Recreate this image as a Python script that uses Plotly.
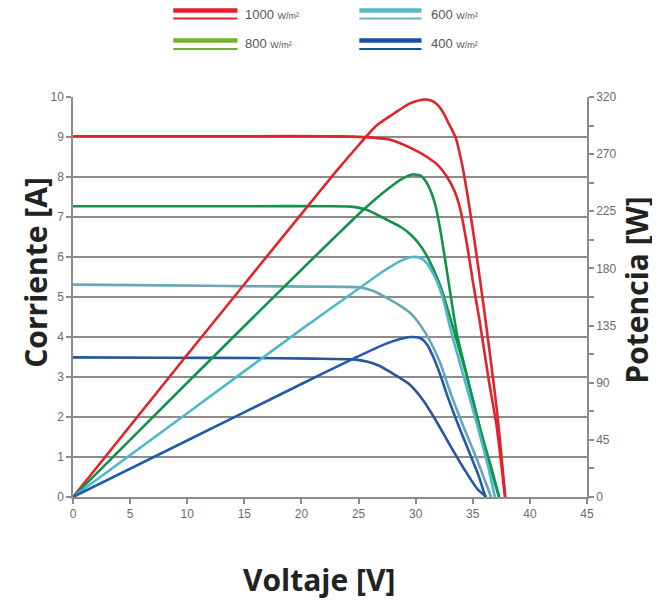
import plotly.graph_objects as go

# ---- data ----
irradiance_labels = ["1000", "800", "600", "400"]

# Current curves [A]
v_i_1000 = [0, 8, 16, 22, 24.5, 26, 27.8, 29.6, 31.0, 32.0, 32.75, 33.4, 33.9, 34.5, 35.0, 35.6, 36.4, 37.1, 37.82]
i_1000 = [9.02, 9.02, 9.02, 9.02, 9.01, 8.99, 8.93, 8.72, 8.5, 8.28, 8.0, 7.65, 7.2, 6.3, 5.4, 4.4, 2.92, 1.75, 0]

v_i_800 = [0, 8, 16, 22, 24.3, 25.7, 27.2, 28.7, 29.6, 30.5, 31.45, 32.25, 32.9, 33.6, 34.45, 35.6, 36.8, 37.3]
i_800 = [7.27, 7.27, 7.27, 7.27, 7.26, 7.18, 6.97, 6.75, 6.55, 6.25, 5.76, 5.2, 4.6, 3.9, 3.05, 1.75, 0.55, 0]

v_i_600 = [0, 8, 15.4, 21, 25.1, 26.3, 27.2, 28.7, 29.6, 30.4, 31.3, 32.15, 33.05, 34.2, 35.35, 36.6]
i_600 = [5.31, 5.29, 5.27, 5.26, 5.24, 5.15, 5.02, 4.77, 4.58, 4.3, 3.88, 3.35, 2.6, 1.75, 0.95, 0]

v_i_400 = [0, 8, 15.4, 21, 24.6, 25.8, 26.8, 27.8, 29.4, 30.7, 31.9, 33.05, 34.2, 35.4, 36.2]
i_400 = [3.49, 3.48, 3.475, 3.46, 3.44, 3.38, 3.28, 3.12, 2.83, 2.4, 1.85, 1.27, 0.72, 0.2, 0]

# Power curves [W]
v_p_1000 = [0, 10, 20, 23, 25.0, 26.5, 28.1, 29.5, 30.7, 31.4, 31.9, 32.4, 32.9, 33.5, 34.06, 34.5, 34.95, 35.45, 36.0, 36.57, 37.14, 37.85]
p_1000 = [0, 112, 223, 256, 277, 292, 302, 310, 313, 312, 309, 303, 294, 283, 262, 240, 214, 183, 147, 108, 66, 0]

v_p_800 = [0, 10, 20, 25.4, 27.2, 28.7, 29.7, 30.44, 31.0, 31.4, 31.75, 32.2, 32.7, 33.6, 34.45, 35.3, 36.45, 37.3]
p_800 = [0, 90, 179, 226, 240, 250, 254, 253, 247, 239, 229, 208, 180, 129, 97, 66, 26, 0]

v_p_600 = [0, 10, 20, 25.15, 27.2, 28.7, 29.7, 30.45, 31.0, 31.4, 31.86, 32.43, 33.14, 34.14, 35.29, 36.29, 36.94]
p_600 = [0, 66, 132, 165, 178, 186, 189, 188, 184, 178, 170, 155, 129, 97, 60, 26, 0]

v_p_400 = [0, 10, 20, 24.56, 27.2, 28.5, 29.56, 30.43, 31.0, 31.6, 32.2, 32.8, 33.5, 34.7, 35.5, 36.1]
p_400 = [0, 44.5, 89, 109, 120, 124, 126, 125, 120, 109, 95, 79, 62, 35, 17, 0]

x_ticks = [0, 5, 10, 15, 20, 25, 30, 35, 40, 45]
y_ticks = list(range(0, 11))
y2_tickvals = [0, 22.5, 45, 67.5, 90, 112.5, 135, 157.5, 180, 202.5, 225, 247.5, 270, 292.5, 315]
y2_ticktext = ["0", "", "45", "", "90", "", "135", "", "180", "", "225", "", "270", "", "320"]

# ---- styling ----
c_i = {"1000": "#e1232b", "800": "#13924a", "600": "#6aa6b6", "400": "#26569b"}
c_p = {"1000": "#e1232b", "800": "#13924a", "600": "#4cb8c9", "400": "#1f5ca8"}
c_leg = {"1000": "#e02128", "800": "#72b02f", "600": "#5bb8c7", "400": "#1552a0"}
grid = "#8c8c8c"
tick_col = "#6b6b6b"

fig = go.Figure()

curr = {"1000": (v_i_1000, i_1000), "800": (v_i_800, i_800),
        "600": (v_i_600, i_600), "400": (v_i_400, i_400)}
powr = {"1000": (v_p_1000, p_1000), "800": (v_p_800, p_800),
        "600": (v_p_600, p_600), "400": (v_p_400, p_400)}

for k in irradiance_labels:
    vx, py = powr[k]
    fig.add_trace(go.Scatter(x=vx, y=py, yaxis="y2", mode="lines",
                             line=dict(color=c_p[k], width=2.6, shape="spline", smoothing=0.6),
                             showlegend=False, hoverinfo="skip"))
for k in irradiance_labels:
    vx, iy = curr[k]
    fig.add_trace(go.Scatter(x=vx, y=iy, mode="lines",
                             line=dict(color=c_i[k], width=2.6, shape="spline", smoothing=0.6),
                             showlegend=False, hoverinfo="skip"))

tickfont = dict(family="Liberation Sans, Arial, sans-serif", size=12, color=tick_col)

# page body has an 8px margin, so the figure is made 8px smaller and shifted
fig.update_layout(
    width=652, height=594,
    margin=dict(l=65, r=73, t=89, b=105),
    paper_bgcolor="white", plot_bgcolor="white",
    xaxis=dict(range=[0, 45], tickvals=x_ticks, ticks="outside", ticklen=5,
               tickcolor=grid, tickwidth=1.5, showgrid=False, zeroline=False,
               showline=True, linecolor=grid, linewidth=1.5, tickfont=tickfont),
    yaxis=dict(range=[0, 10], tickvals=y_ticks, ticks="outside", ticklen=5,
               tickcolor=grid, tickwidth=1.5, showgrid=True, gridcolor=grid, gridwidth=1.5,
               zeroline=False, showline=True, linecolor=grid, linewidth=1.5, tickfont=tickfont),
    yaxis2=dict(range=[0, 315], overlaying="y", side="right", tickvals=y2_tickvals,
                ticktext=y2_ticktext, ticks="outside", ticklen=5, tickcolor=grid, tickwidth=1.5,
                showgrid=False, zeroline=False, showline=True, linecolor=grid, linewidth=1.5,
                tickfont=tickfont),
)

title_font = dict(family="Open Sans, sans-serif", size=30, color="#222222", weight=700)
fig.add_annotation(text="Corriente [A]", xref="paper", yref="paper", x=-0.072, y=0.563,
                   textangle=-90, showarrow=False, font=title_font, xanchor="center", yanchor="middle")
fig.add_annotation(text="Potencia [W]", xref="paper", yref="paper", x=1.097, y=0.518,
                   textangle=-90, showarrow=False, font=title_font, xanchor="center", yanchor="middle")
fig.add_annotation(text="Voltaje [V]", xref="paper", yref="paper", x=0.479, y=-0.207,
                   showarrow=False, font=title_font, xanchor="center", yanchor="middle")

# custom legend (double-line samples)
leg_pos = {"1000": (0.195, 0.320, 1.216, 1.196, 0.331, 1.206),
           "600": (0.557, 0.678, 1.216, 1.196, 0.692, 1.206),
           "800": (0.195, 0.320, 1.1415, 1.12, 0.331, 1.133),
           "400": (0.557, 0.678, 1.1415, 1.12, 0.692, 1.133)}
for k in irradiance_labels:
    x0, x1, yt, yb, xt, ytxt = leg_pos[k]
    fig.add_shape(type="line", xref="paper", yref="paper", x0=x0, x1=x1, y0=yt, y1=yt,
                  line=dict(color=c_leg[k], width=4.5))
    fig.add_shape(type="line", xref="paper", yref="paper", x0=x0, x1=x1, y0=yb, y1=yb,
                  line=dict(color=c_leg[k], width=2))
    fig.add_annotation(text=k + " <span style='font-size:9px'>W/m²</span>", xref="paper", yref="paper",
                       x=xt, y=ytxt, xanchor="left", yanchor="middle", showarrow=False,
                       font=dict(family="Liberation Sans, Arial, sans-serif", size=13, color="#555555"))

fig.write_html("out.html")
